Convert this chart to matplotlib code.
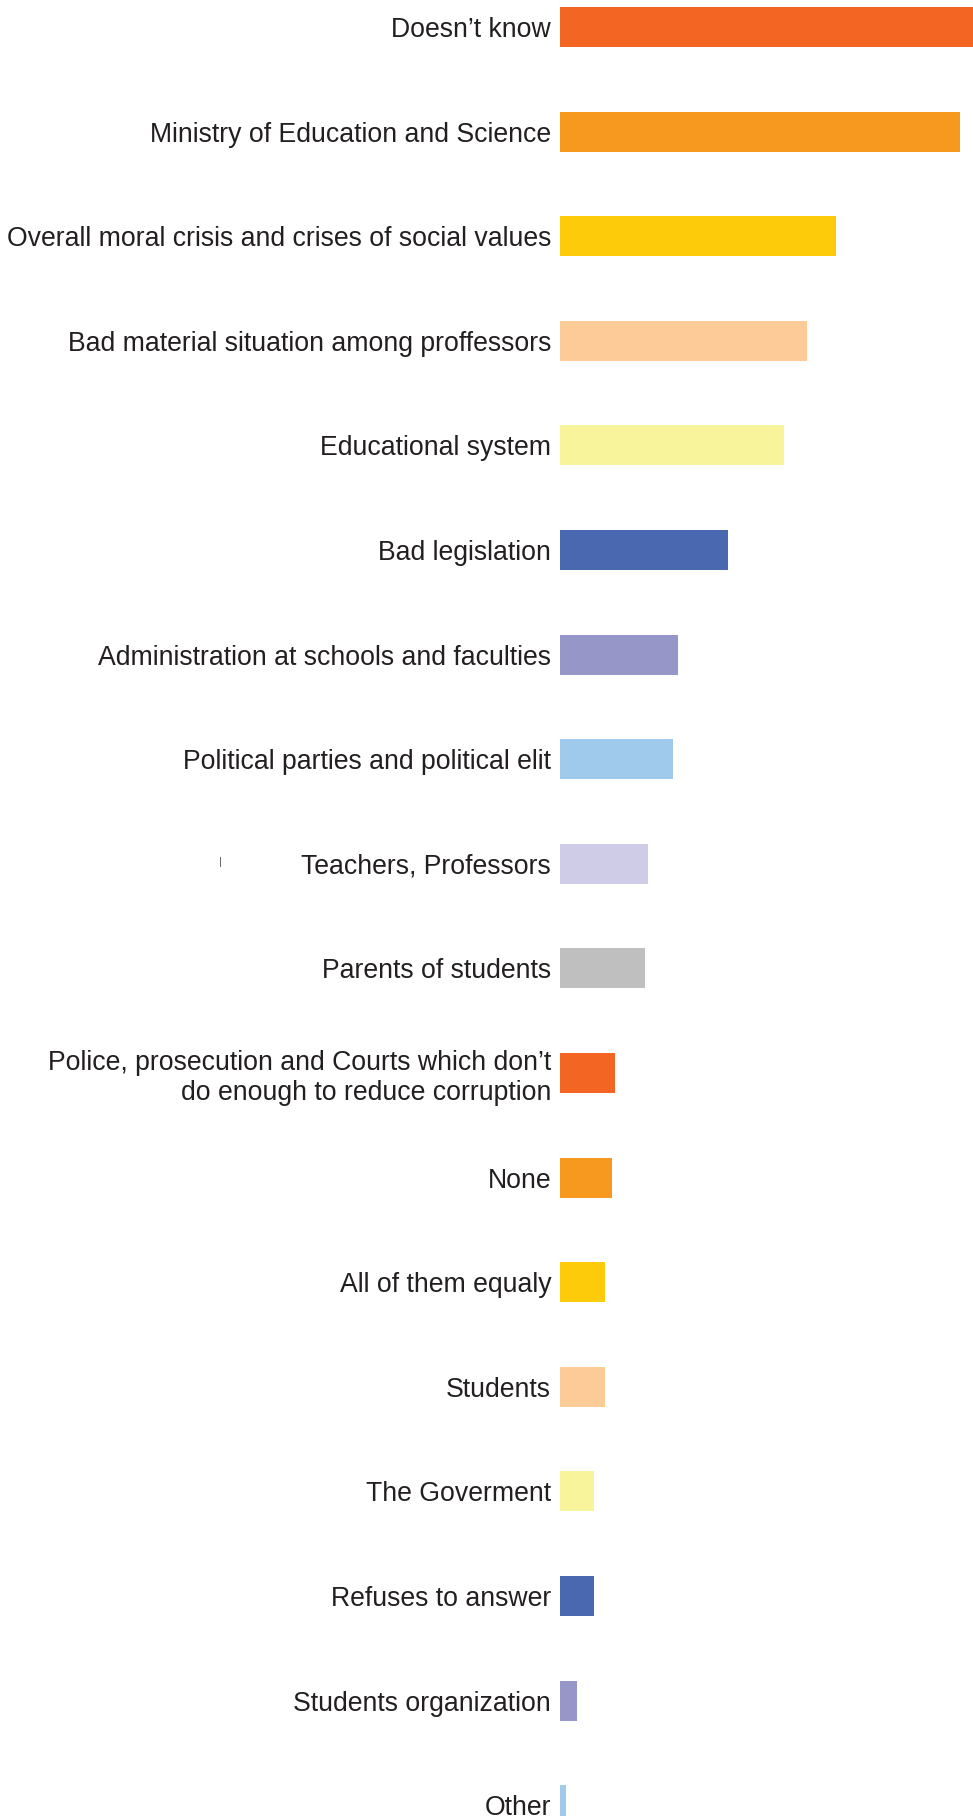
import matplotlib
matplotlib.use("Agg")
import matplotlib.pyplot as plt

categories = [
    "Doesn\u2019t know",
    "Ministry of Education and Science",
    "Overall moral crisis and crises of social values",
    "Bad material situation among proffessors",
    "Educational system",
    "Bad legislation",
    "Administration at schools and faculties",
    "Political parties and political elit",
    "Teachers, Professors",
    "Parents of students",
    "Police, prosecution and Courts which don\u2019t\ndo enough to reduce corruption",
    "None",
    "All of them equaly",
    "Students",
    "The Goverment",
    "Refuses to answer",
    "Students organization",
    "Other",
]
values = [25.0, 23.0, 15.9, 14.2, 12.9, 9.7, 6.8, 6.5, 5.1, 4.9, 3.2, 3.0, 2.6, 2.6, 2.0, 2.0, 1.0, 0.4]
colors = ["#F36523", "#F7991F", "#FECB0A", "#FDCB98", "#F8F49B", "#4A68B0",
          "#9696C8", "#A0CAEB", "#CFCCE7", "#BFBFBF",
          "#F36523", "#F7991F", "#FECB0A", "#FDCB98", "#F8F49B", "#4A68B0",
          "#9696C8", "#A0CAEB"]

plt.rcParams['font.family'] = ['Liberation Sans', 'DejaVu Sans']

W, H = 973, 1816
fig = plt.figure(figsize=(W / 100, H / 100), dpi=100)
left_px = 559.5
ax = fig.add_axes([left_px / W, 0, 1 - left_px / W, 1])

step = 104.6
top_c = 27
pos = list(range(len(categories)))
ax.barh(pos, values, height=40 / step, color=colors, edgecolor='none')
ax.set_ylim((H - top_c) / step, -top_c / step)
ax.set_xlim(0, (W - left_px) / 17.4)

ax.set_yticks(pos)
ax.set_yticklabels(categories, fontsize=19.2, color="#231F20", linespacing=1.2)
ax.tick_params(axis='y', length=0, pad=6)
ax.set_xticks([])
for s in ax.spines.values():
    s.set_visible(False)

fig.text(220 / W, 1 - 862 / H, "|", fontsize=8, color="#555555", ha='center', va='center')

fig.savefig("out.png", dpi=100)
